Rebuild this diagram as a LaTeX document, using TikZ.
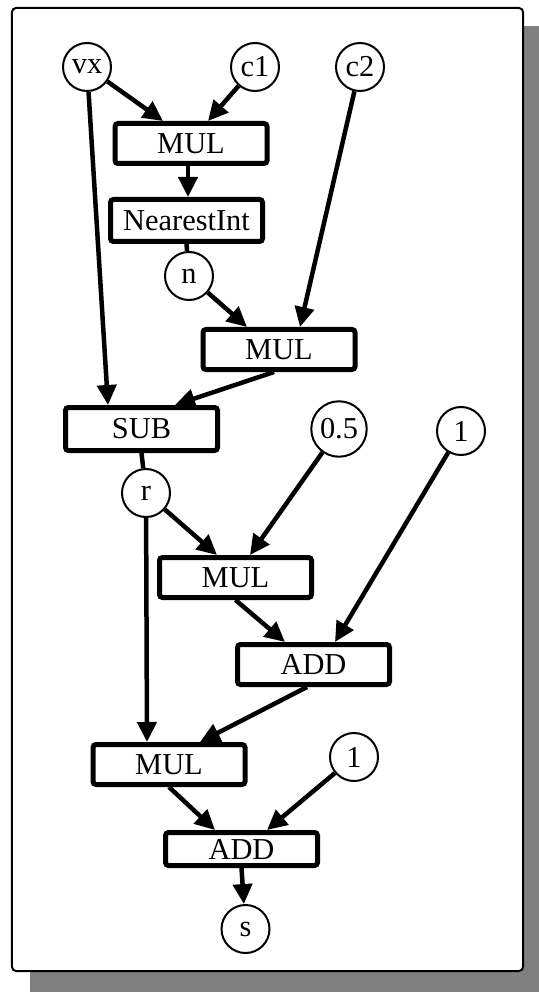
\documentclass[tikz,border=0pt]{standalone}
\usepackage{fontspec}
\setmainfont{Liberation Serif}
\usetikzlibrary{arrows.meta}

\begin{document}
\begin{tikzpicture}[
		varvertex/.style={circle,draw,line width=0.04cm,minimum size=0.96cm,inner sep=0.09cm,fill=white},
		opvertex/.style={rectangle,draw,line width=0.1cm,rounded corners=0.06cm,
		minimum width=3.04cm,minimum height=0.8cm,inner sep=0.05cm,fill=white},
		flow/.style={line width=0.09cm,-{Triangle[length=0.4cm,width=0.38cm]}},
		plainflow/.style={line width=0.09cm},
		font=\fontsize{17.3}{20}\selectfont
		]
		\useasboundingbox (-1.74,1.34) rectangle (9.04,-18.5);
		\fill[gray] (-1.14,0.82) rectangle (9.04,-18.5);
		\draw[fill=white,line width=0.04cm,rounded corners=0.08cm] (-1.5,1.18) rectangle (8.72,-18.08);

		\node[varvertex](vx){vx};
		\node[varvertex, right of = vx, xshift = 2.36cm](c1){c1};
		\node[varvertex, right of = c1, xshift = 1.1cm](c2){c2};
		\node[opvertex, below of = c1, yshift = -0.53cm, xshift = -1.28cm](mul1){MUL};
		\draw[flow] (vx) -- ([xshift=-0.56cm]mul1.north);
		\draw[flow] (c1) -- ([xshift=0.34cm]mul1.north);
		\node[opvertex, below of = mul1, yshift = -0.54cm, xshift = -0.09cm,
		minimum height=0.84cm](ni){NearestInt\hspace{0.44cm}};
		\draw[flow] ([xshift=-0.06cm]mul1.south) -- ([xshift=0.03cm]ni.north);
		\node[varvertex, below of = ni, yshift = -0.11cm, xshift = 0.05cm](n){n};
		\draw[plainflow] (ni.south) -- (n);
		\node[opvertex, below of = n, yshift = -0.47cm, xshift = 1.8cm](mul2){MUL};
		\draw[flow] (n) -- ([xshift=-0.64cm]mul2.north);
		\draw[flow] (c2) -- ([xshift=0.42cm]mul2.north);
		\node[opvertex, below of = mul2, yshift = -0.59cm, xshift = -2.75cm,
		minimum height=0.86cm](sub){SUB};
		\draw[flow] (vx) -- ([xshift=-0.67cm]sub.north);
		\draw[flow] ([xshift=-0.1cm]mul2.south) -- ([xshift=0.67cm]sub.north);
		\node[varvertex, below of = sub, yshift = -0.28cm, xshift = 0.09cm](r){r};
		\draw[plainflow] (sub.south) -- (r);
		\node[varvertex, below of = mul2, yshift = -0.59cm, xshift = 1.2cm](half){0.5};
		\node[varvertex, right of = half, xshift = 1.44cm, yshift = -0.04cm](one1){1};
		\node[opvertex, below of = r, yshift = -0.69cm, xshift = 1.79cm](mul3){MUL};
		\draw[flow] (r) -- ([xshift=-0.37cm]mul3.north);
		\draw[flow] (half) -- ([xshift=0.29cm]mul3.north);
		\node[opvertex, below of = mul3, yshift = -0.74cm, xshift = 1.56cm](add1){ADD};
		\draw[flow] (mul3.south) -- ([xshift=-0.57cm]add1.north);
		\draw[flow] (one1) -- ([xshift=0.43cm]add1.north);
		\node[opvertex, below of = add1, yshift = -1cm, xshift = -2.89cm](mul4){MUL};
		\draw[flow] (r) -- ([xshift=-0.44cm]mul4.north);
		\draw[flow] ([xshift=-0.13cm]add1.south) -- ([xshift=0.62cm]mul4.north);
		\node[varvertex, below of = add1, yshift = -0.85cm, xshift = 0.81cm](one2){1};
		\node[opvertex, below of = mul4, yshift = -0.69cm, xshift = 1.45cm,
		minimum height=0.66cm](add2){ADD};
		\draw[flow] (mul4.south) -- ([xshift=-0.53cm]add2.north);
		\draw[flow] (one2) -- ([xshift=0.51cm]add2.north);
		\node[varvertex, below of = add2, yshift = -0.6cm, xshift = 0.08cm](s){s};
		\draw[flow] (add2.south) -- (s);
	\end{tikzpicture}
\end{document}
